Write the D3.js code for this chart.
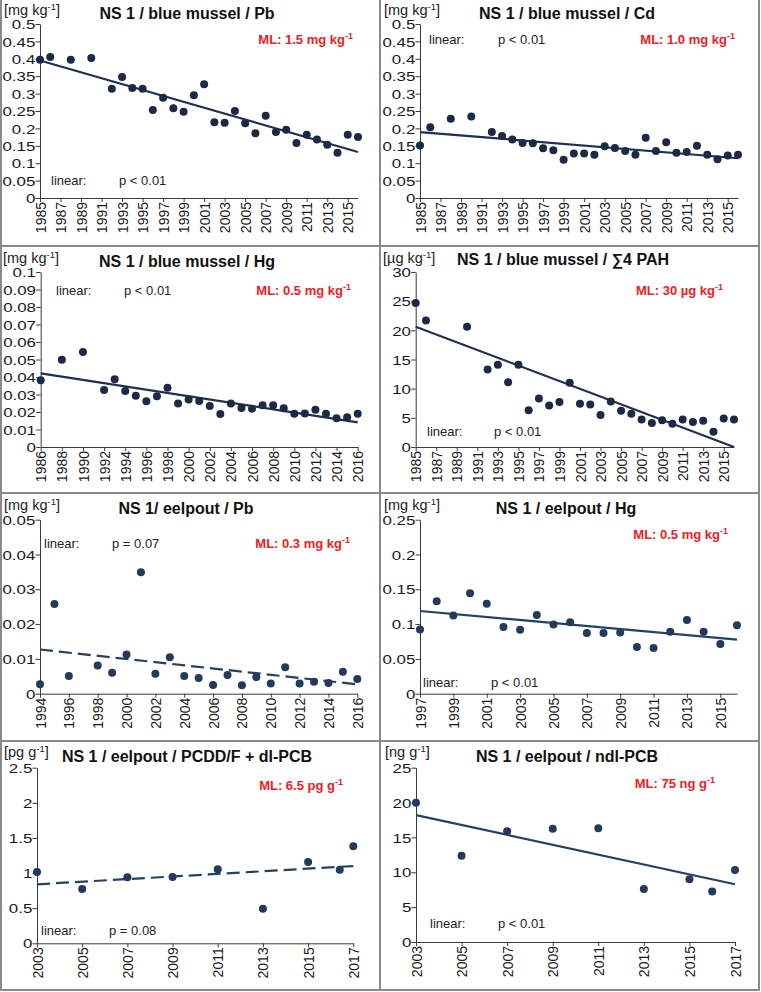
<!DOCTYPE html>
<html><head><meta charset="utf-8">
<script src="https://cdn.jsdelivr.net/npm/d3@7"></script>
<style>
body{margin:0;background:#fff}
svg{display:block}
text{font-family:"Liberation Sans",Arial,Helvetica,sans-serif}
</style>
</head><body>
<svg id="chart" width="761" height="992"></svg>
<script>
// ---------- DATA ----------
const musselYearsA = [1985,1986,1988,1990,1992,1993,1994,1995,1996,1997,1998,1999,2000,2001,2002,2003,2004,2005,2006,2007,2008,2009,2010,2011,2012,2013,2014,2015,2016];
const pbMusselValues = [0.397,0.405,0.397,0.402,0.314,0.348,0.316,0.314,0.253,0.288,0.258,0.248,0.295,0.327,0.218,0.216,0.250,0.215,0.186,0.236,0.190,0.196,0.158,0.182,0.168,0.153,0.130,0.182,0.175];
const pbMusselTrend = [[1985,0.395],[2016,0.132]];

const cdMusselValues = [0.151,0.203,0.228,0.234,0.190,0.178,0.168,0.158,0.157,0.143,0.137,0.110,0.128,0.128,0.124,0.149,0.144,0.135,0.124,0.173,0.135,0.160,0.130,0.132,0.150,0.124,0.111,0.122,0.124];
const cdMusselTrend = [[1985,0.1895],[2016,0.1143]];

const hgMusselYears = [1986,1988,1990,1992,1993,1994,1995,1996,1997,1998,1999,2000,2001,2002,2003,2004,2005,2006,2007,2008,2009,2010,2011,2012,2013,2014,2015,2016];
const hgMusselValues = [0.0381,0.0499,0.0543,0.0326,0.0387,0.0320,0.0293,0.0261,0.0290,0.0339,0.0248,0.0272,0.0263,0.0234,0.0189,0.0248,0.0223,0.0219,0.0238,0.0238,0.0221,0.0190,0.0192,0.0213,0.0190,0.0164,0.0170,0.0190];
const hgMusselTrend = [[1986,0.0421],[2016,0.0141]];

const pahYears = [1985,1986,1990,1992,1993,1994,1995,1996,1997,1998,1999,2000,2001,2002,2003,2004,2005,2006,2007,2008,2009,2010,2011,2012,2013,2014,2015,2016];
const pahValues = [24.7,21.7,20.6,13.3,14.1,11.1,14.1,6.3,8.3,7.1,7.7,11.0,7.4,7.3,5.5,7.8,6.2,5.7,4.7,4.1,4.6,4.0,4.7,4.3,4.5,2.6,4.9,4.7];
const pahTrend = [[1985,20.6],[2016,0]];

const pbEelpoutYears = [1994,1995,1996,1998,1999,2000,2001,2002,2003,2004,2005,2006,2007,2008,2009,2010,2011,2012,2013,2014,2015,2016];
const pbEelpoutValues = [0.0027,0.0258,0.0051,0.0081,0.0060,0.0113,0.0349,0.0057,0.0105,0.0051,0.0045,0.0025,0.0054,0.0024,0.0048,0.0029,0.0076,0.0029,0.0034,0.0031,0.0063,0.0042];
const pbEelpoutTrend = [[1994,0.0127],[2016,0.0027]];

const hgEelpoutYears = [1997,1998,1999,2000,2001,2002,2003,2004,2005,2006,2007,2008,2009,2010,2011,2012,2013,2014,2015,2016];
const hgEelpoutValues = [0.0924,0.1327,0.1125,0.1442,0.1293,0.0958,0.0920,0.1130,0.0996,0.1025,0.0872,0.0872,0.0881,0.0671,0.0656,0.0891,0.1058,0.0891,0.0714,0.0982];
const hgEelpoutTrend = [[1997,0.1188],[2016,0.0776]];

const pcddYears = [2003,2005,2007,2009,2011,2013,2015,2016.4,2017];
const pcddValues = [1.015,0.773,0.939,0.944,1.053,0.493,1.157,1.048,1.380];
const pcddTrend = [[2003,0.84],[2017,1.10]];

const ndlYears = [2003,2005,2007,2009,2011,2013,2015,2016,2017];
const ndlValues = [19.97,12.36,15.9,16.24,16.33,7.61,9.0,7.23,10.34];
const ndlTrend = [[2003,18.2],[2017,8.29]];

const titles = ["NS 1 / blue mussel / Pb","NS 1 / blue mussel / Cd","NS 1 / blue mussel / Hg","NS 1 / blue mussel / \u22114 PAH","NS 1/ eelpout / Pb","NS 1 / eelpout / Hg","NS 1 / eelpout / PCDD/F + dl-PCB","NS 1 / eelpout / ndl-PCB"];
const units = [["[mg kg","]"],["[mg kg","]"],["[mg kg","]"],["[\u00b5g kg","]"],["[mg kg","]"],["[mg kg","]"],["[pg g","]"],["[ng g","]"]];
const mlLabels = ["ML: 1.5 mg kg","ML: 1.0 mg kg","ML: 0.5 mg kg","ML: 30 \u00b5g kg","ML: 0.3 mg kg","ML: 0.5 mg kg","ML: 6.5 pg g","ML: 75 ng g"];
const pLabels = ["p < 0.01","p < 0.01","p < 0.01","p < 0.01","p = 0.07","p < 0.01","p = 0.08","p < 0.01"];
const yMaxima = [0.5,0.5,0.1,30,0.05,0.25,2.5,25];
const yStepsArr = [0.05,0.05,0.01,5,0.01,0.05,0.5,5];
const xDomains = [[1985,2016],[1985,2016],[1986,2016],[1985,2016],[1994,2016],[1997,2016],[2003,2017],[2003,2017]];
const xTickStarts = [1985,1985,1986,1985,1994,1997,2003,2003];
const xTickEnds = [2015,2015,2016,2015,2016,2015,2017,2017];

// ---------- LAYOUT ----------
const layouts = [
  {x0:40,  x1:358, yT:24,  yB:198, tX:187, tY:19,  uX:4,   uY:15,  mlX:353, mlY:44,  linX:51,  pX:119, linY:185},
  {x0:420, x1:738, yT:24,  yB:198, tX:567, tY:19,  uX:384, uY:15,  mlX:735, mlY:44,  linX:429, pX:498, linY:44},
  {x0:40.7,x1:357.7,yT:272,yB:447, tX:187, tY:267, uX:3,   uY:263, mlX:351, mlY:295, linX:56,  pX:124, linY:295},
  {x0:415.7,x1:734,yT:272, yB:447, tX:563, tY:265, uX:383, uY:263, mlX:723, mlY:295, linX:427, pX:494, linY:436},
  {x0:40,  x1:357.3,yT:519.7,yB:693.7,tX:186,tY:514, uX:4,  uY:510, mlX:350, mlY:548, linX:44,  pX:112, linY:548},
  {x0:420, x1:737, yT:519.7,yB:693.7, tX:566,tY:514, uX:384,uY:510, mlX:728, mlY:539, linX:423, pX:491, linY:687},
  {x0:37,  x1:353.3,yT:767.7,yB:943.3,tX:187,tY:762, uX:4,  uY:757, mlX:343, mlY:790, linX:41,  pX:109, linY:935},
  {x0:416, x1:735, yT:767.7,yB:942,  tX:567,tY:762, uX:385, uY:757, mlX:715, mlY:788, linX:430, pX:498, linY:928}
];

const seriesYears = [musselYearsA,musselYearsA,hgMusselYears,pahYears,pbEelpoutYears,hgEelpoutYears,pcddYears,ndlYears];
const seriesValues = [pbMusselValues,cdMusselValues,hgMusselValues,pahValues,pbEelpoutValues,hgEelpoutValues,pcddValues,ndlValues];
const trends = [pbMusselTrend,cdMusselTrend,hgMusselTrend,pahTrend,pbEelpoutTrend,hgEelpoutTrend,pcddTrend,ndlTrend];
const dashedTrend = [false,false,false,false,true,false,true,false];

const svg = d3.select("#chart");
svg.append("rect").attr("width",761).attr("height",992).attr("fill","#fff");

const fmt = d => String(+d.toFixed(4));

titles.forEach((title,i) => {
  const L = layouts[i];
  const g = svg.append("g");
  const x = d3.scaleLinear().domain(xDomains[i]).range([L.x0, L.x1]);
  const y = d3.scaleLinear().domain([0, yMaxima[i]]).range([L.yB, L.yT]);
  const nY = Math.round(yMaxima[i]/yStepsArr[i]);
  const yTicks = d3.range(nY+1).map(k => +(k*yStepsArr[i]).toFixed(4));
  const xTicks = d3.range(xTickStarts[i], xTickEnds[i]+1, 2);
  const dotColor = i < 4 ? "#1b2a45" : "#233a5c";
  const lineColor = i < 4 ? "#1f3150" : "#26405f";

  // y axis
  const ya = g.append("g").attr("transform",`translate(${L.x0},0)`)
    .call(d3.axisLeft(y).tickValues(yTicks).tickSize(4.5).tickSizeOuter(0).tickFormat(fmt));
  ya.select(".domain").attr("stroke","#3a3a3a").attr("stroke-width",1);
  ya.selectAll(".tick line").attr("stroke","#3a3a3a");
  ya.selectAll(".tick text").attr("x",-3.6).attr("dy","0.36em")
    .attr("transform","scale(1.3,1)").attr("font-size",13).attr("fill","#1a1a1a")
    .attr("font-family",null);

  // x axis
  const xa = g.append("g").attr("transform",`translate(0,${L.yB})`)
    .call(d3.axisBottom(x).tickValues(xTicks).tickSize(4).tickSizeOuter(0).tickFormat(d3.format("d")));
  xa.select(".domain").attr("stroke","#3a3a3a").attr("stroke-width",1);
  xa.selectAll(".tick line").attr("stroke","#3a3a3a");
  xa.selectAll(".tick text").attr("transform","rotate(-90)").attr("text-anchor","end")
    .attr("x",-4).attr("y",0).attr("dy","0.36em").attr("font-size",14).attr("fill","#1a1a1a")
    .attr("font-family",null);

  // trend line
  g.append("path").datum(trends[i])
    .attr("d", d3.line().x(d=>x(d[0])).y(d=>y(d[1])))
    .attr("fill","none").attr("stroke",lineColor).attr("stroke-width",2.2)
    .attr("stroke-dasharray", dashedTrend[i] ? "13,6" : null);

  // points
  g.selectAll("circle").data(seriesYears[i].map((yr,k)=>[yr, seriesValues[i][k]]))
    .enter().append("circle")
    .attr("cx", d=>x(d[0])).attr("cy", d=>y(d[1])).attr("r",4).attr("fill",dotColor);

  // title
  g.append("text").attr("x",L.tX).attr("y",L.tY).attr("text-anchor","middle")
    .attr("font-size",16).attr("font-weight","bold").attr("fill","#111").text(title);

  // unit label
  const u = g.append("text").attr("x",L.uX).attr("y",L.uY).attr("font-size",14.5).attr("fill","#222");
  u.append("tspan").text(units[i][0]);
  u.append("tspan").attr("dy",-5).attr("font-size",9.5).text("-1");
  u.append("tspan").attr("dy",5).text(units[i][1]);

  // ML label (red)
  const m = g.append("text").attr("x",L.mlX).attr("y",L.mlY).attr("text-anchor","end")
    .attr("font-size",13).attr("font-weight","bold").attr("fill","#ed1c24");
  m.append("tspan").text(mlLabels[i]);
  m.append("tspan").attr("dy",-5).attr("font-size",9).text("-1");

  // linear / p
  g.append("text").attr("x",L.linX).attr("y",L.linY).attr("font-size",13).attr("fill","#222").text("linear:");
  g.append("text").attr("x",L.pX).attr("y",L.linY).attr("font-size",13).attr("fill","#222").text(pLabels[i]);
});

// panel frame lines
const frameStroke = "#8a8a8a";
const vLines = [1, 380, 759];
const hLines = [246, 493, 741, 990];
vLines.forEach(xv => svg.append("line").attr("x1",xv).attr("x2",xv).attr("y1",0).attr("y2",991)
  .attr("stroke",frameStroke).attr("stroke-width",2));
hLines.forEach(yv => svg.append("line").attr("x1",0).attr("x2",760).attr("y1",yv).attr("y2",yv)
  .attr("stroke",frameStroke).attr("stroke-width",2));
</script>
</body></html>
